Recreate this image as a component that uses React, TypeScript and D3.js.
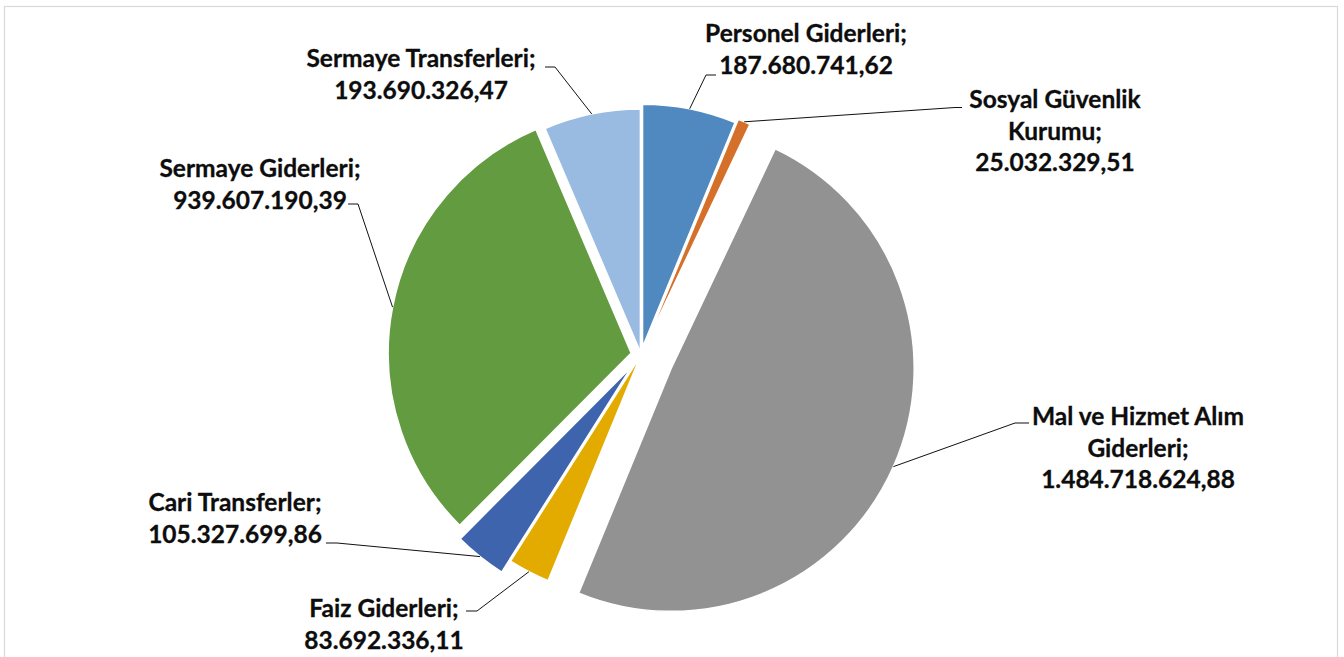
import * as d3 from 'd3';

// Data
const categories = [
    'Personel Giderleri',
    'Sosyal Güvenlik Kurumu',
    'Mal ve Hizmet Alım Giderleri',
    'Faiz Giderleri',
    'Cari Transferler',
    'Sermaye Giderleri',
    'Sermaye Transferleri',
];
const values = [
    187680741.62, 25032329.51, 1484718624.88, 83692336.11, 105327699.86, 939607190.39, 193690326.47,
];
// label text split the way the chart wraps it
const labelLines = [
    ['Personel Giderleri;'],
    ['Sosyal Güvenlik', 'Kurumu;'],
    ['Mal ve Hizmet Alım', 'Giderleri;'],
    ['Faiz Giderleri;'],
    ['Cari Transferler;'],
    ['Sermaye Giderleri;'],
    ['Sermaye Transferleri;'],
];

const colors = ['#4f89bf', '#d5702b', '#929292', '#e3aa00', '#3d64ad', '#639b40', '#99bbe1'];
const explode = [8, 12, 33, 1, 15, 10, 3];

// label layout: center x, first baseline, leader elbow, leader end
const labelLayout = [
    { x: 806, y: 42, elbow: [706, 75], end: [716, 75] },
    { x: 1055, y: 108, elbow: [955, 107.5], end: [962, 107.5] },
    { x: 1138, y: 425, elbow: [1015, 423], end: [1029, 423] },
    { x: 384, y: 617, elbow: [477, 611], end: [466, 611] },
    { x: 235, y: 511, elbow: [337, 543], end: [326, 543] },
    { x: 260, y: 177, elbow: [358, 204], end: [348, 204] },
    { x: 421, y: 67, elbow: [555, 67], end: [545, 67] },
];

const width = 1344;
const height = 657;
const cx = 641;
const cy = 355;
const radius = 243;
const lineHeight = 31.5;

const trLocale = d3.formatLocale({ decimal: ',', thousands: '.', grouping: [3], currency: ['', ''] });
const fmt = trLocale.format(',.2f');

export default function App() {
    const pie = d3
        .pie<number>()
        .sort(null)
        .value((d) => d)
        .startAngle(0)
        .endAngle(2 * Math.PI);
    const arcs = pie(values);
    const arc = d3.arc<d3.PieArcDatum<number>>().innerRadius(0).outerRadius(radius);

    return (
        <svg
            width={width}
            height={height}
            style={{ position: 'absolute', left: 0, top: 0, background: '#fff' }}
            fontFamily="Lato, 'Liberation Sans', sans-serif"
        >
            <rect x={4.5} y={6.5} width={1333} height={660} fill="#fff" stroke="#d9d9d9" strokeWidth={1.2} />
            <g transform={`translate(${cx},${cy})`}>
                {arcs.map((a, i) => {
                    const mid = (a.startAngle + a.endAngle) / 2;
                    const dx = explode[i] * Math.sin(mid);
                    const dy = -explode[i] * Math.cos(mid);
                    return (
                        <path
                            key={categories[i]}
                            d={arc(a) || ''}
                            transform={`translate(${dx},${dy})`}
                            fill={colors[i]}
                            stroke="#fff"
                            strokeWidth={1.5}
                            strokeLinejoin="round"
                        />
                    );
                })}
            </g>
            {arcs.map((a, i) => {
                const mid = (a.startAngle + a.endAngle) / 2;
                const r = radius + explode[i];
                const sx = cx + r * Math.sin(mid);
                const sy = cy - r * Math.cos(mid);
                const L = labelLayout[i];
                return (
                    <polyline
                        key={'leader' + i}
                        points={`${sx},${sy} ${L.elbow[0]},${L.elbow[1]} ${L.end[0]},${L.end[1]}`}
                        fill="none"
                        stroke="#111"
                        strokeWidth={1}
                    />
                );
            })}
            {arcs.map((a, i) => {
                const L = labelLayout[i];
                const lines = [...labelLines[i], fmt(values[i])];
                return (
                    <text
                        key={'label' + i}
                        x={L.x}
                        y={L.y}
                        textAnchor="middle"
                        fontSize={24.5}
                        fontWeight="bold"
                        fill="#0d0d0d"
                        stroke="#0d0d0d"
                        strokeWidth={0.3}
                    >
                        {lines.map((t, j) => (
                            <tspan key={j} x={L.x} y={L.y + j * lineHeight}>
                                {t}
                            </tspan>
                        ))}
                    </text>
                );
            })}
        </svg>
    );
}
